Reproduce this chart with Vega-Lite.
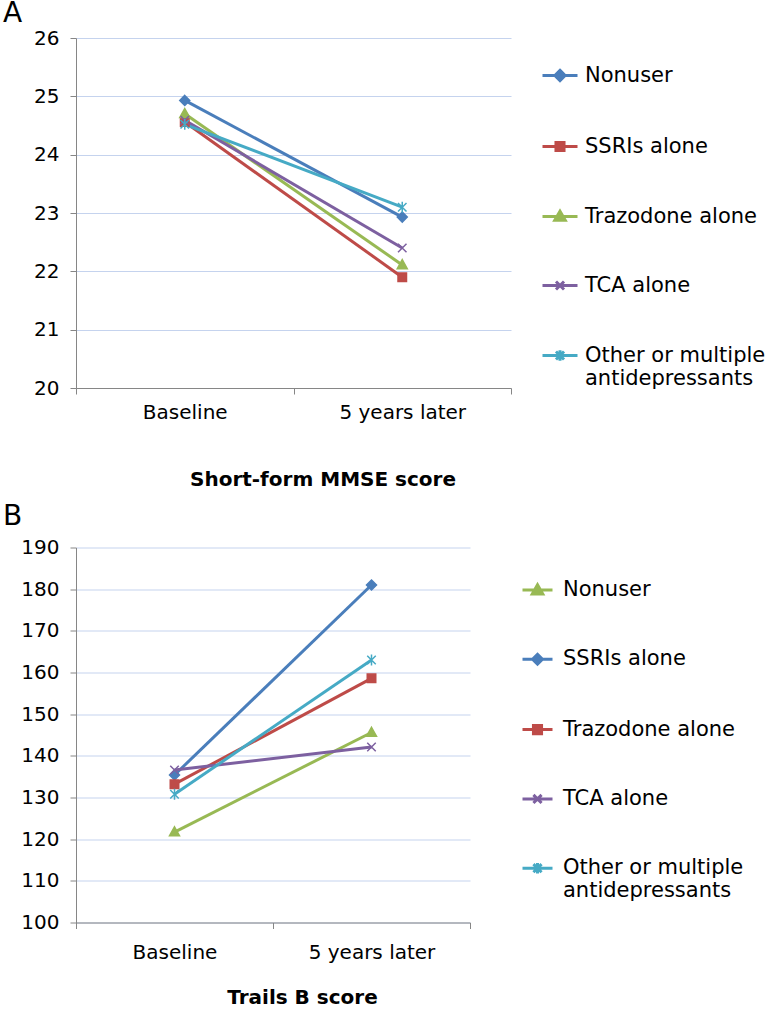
{
  "$schema": "https://vega.github.io/schema/vega-lite/v6.json",
  "padding": {"left": 3, "top": 0, "right": 0, "bottom": 0},
  "config": {
    "font": "DejaVu Sans",
    "view": {"stroke": null},
    "axis": {"labelFont": "DejaVu Sans", "titleFont": "DejaVu Sans", "labelColor": "#000000", "titleColor": "#000000", "domainColor": "#868686", "tickColor": "#868686", "gridColor": "#C5D3EE", "gridWidth": 1, "domainWidth": 1, "tickWidth": 1, "tickSize": 6, "labelFontSize": 20, "titleFontSize": 20, "titleFontWeight": "bold"},
    "legend": {"labelFont": "DejaVu Sans", "labelColor": "#000000"},
    "title": {"font": "DejaVu Sans", "color": "#000000"}
  },
  "datasets": {
    "mmse": [
      {"group": "Nonuser", "time": "Baseline", "score": 24.93},
      {"group": "Nonuser", "time": "5 years later", "score": 22.93},
      {"group": "SSRIs alone", "time": "Baseline", "score": 24.56},
      {"group": "SSRIs alone", "time": "5 years later", "score": 21.9},
      {"group": "Trazodone alone", "time": "Baseline", "score": 24.7},
      {"group": "Trazodone alone", "time": "5 years later", "score": 22.11},
      {"group": "TCA alone", "time": "Baseline", "score": 24.59},
      {"group": "TCA alone", "time": "5 years later", "score": 22.4},
      {"group": "Other or multiple antidepressants", "time": "Baseline", "score": 24.52},
      {"group": "Other or multiple antidepressants", "time": "5 years later", "score": 23.1}
    ],
    "trails": [
      {"group": "Nonuser", "time": "Baseline", "score": 121.7},
      {"group": "Nonuser", "time": "5 years later", "score": 145.6},
      {"group": "SSRIs alone", "time": "Baseline", "score": 135.4},
      {"group": "SSRIs alone", "time": "5 years later", "score": 181},
      {"group": "Trazodone alone", "time": "Baseline", "score": 133.2},
      {"group": "Trazodone alone", "time": "5 years later", "score": 158.6},
      {"group": "TCA alone", "time": "Baseline", "score": 136.6},
      {"group": "TCA alone", "time": "5 years later", "score": 142.1},
      {"group": "Other or multiple antidepressants", "time": "Baseline", "score": 130.8},
      {"group": "Other or multiple antidepressants", "time": "5 years later", "score": 163}
    ]
  },
  "spacing": 13.5,
  "resolve": {
    "scale": {"x": "independent", "y": "independent", "fill": "independent", "stroke": "independent", "shape": "independent"},
    "legend": {"fill": "independent", "stroke": "independent", "shape": "independent"}
  },
  "vconcat": [
    {
      "width": 435,
      "height": 350,
      "title": {"text": "A", "anchor": "start", "frame": "group", "fontSize": 28, "fontWeight": "normal", "dx": -73, "offset": 0},
      "data": {"name": "mmse"},
      "encoding": {
        "x": {"field": "time", "type": "nominal", "sort": ["Baseline", "5 years later"],
          "scale": {"type": "band", "paddingInner": 0, "paddingOuter": 0},
          "axis": {"title": "Short-form MMSE score", "labelAngle": 0, "tickBand": "extent", "grid": false, "labelPadding": 8, "titlePadding": 47, "titleX": 246.5}},
        "y": {"field": "score", "type": "quantitative",
          "scale": {"domain": [20, 26], "nice": false, "zero": false},
          "axis": {"title": null, "values": [20, 21, 22, 23, 24, 25, 26], "labelPadding": 11, "grid": true}}
      },
      "layer": [
        {
          "mark": {"type": "line", "strokeWidth": 3},
          "encoding": {
            "stroke": {"field": "group", "type": "nominal",
              "scale": {"domain": ["Nonuser", "SSRIs alone", "Trazodone alone", "TCA alone", "Other or multiple antidepressants"], "range": ["#4A7EBB", "#BE4B48", "#98B954", "#7D60A0", "#46AAC5"]}}
          }
        },
        {
          "mark": {"type": "point", "filled": true, "opacity": 0, "size": 1},
          "encoding": {
            "stroke": {"field": "group", "type": "nominal",
              "legend": {"title": null, "orient": "none", "legendX": 465, "legendY": 18.5, "padding": 0, "rowPadding": 40, "labelFontSize": 21, "labelOffset": 6, "labelLimit": 0, "symbolSize": 1225, "symbolStrokeWidth": 3, "symbolOpacity": 1,
                "labelExpr": "datum.label == 'Other or multiple antidepressants' ? ['Other or multiple', 'antidepressants'] : datum.label"}},
            "fill": {"field": "group", "type": "nominal",
              "scale": {"domain": ["Nonuser", "SSRIs alone", "Trazodone alone", "TCA alone", "Other or multiple antidepressants"], "range": ["#4A7EBB", "#BE4B48", "#98B954", "#7D60A0", "#46AAC5"]},
              "legend": {"title": null, "orient": "none", "legendX": 465, "legendY": 18.5, "padding": 0, "rowPadding": 40, "labelFontSize": 21, "labelOffset": 6, "labelLimit": 0, "symbolSize": 1225, "symbolStrokeWidth": 3, "symbolOpacity": 1,
                "labelExpr": "datum.label == 'Other or multiple antidepressants' ? ['Other or multiple', 'antidepressants'] : datum.label"}},
            "shape": {"field": "group", "type": "nominal",
              "scale": {"domain": ["Nonuser", "SSRIs alone", "Trazodone alone", "TCA alone", "Other or multiple antidepressants"],
                "range": ["M-1,0H1M0,-0.29L0.29,0L0,0.29L-0.29,0Z", "M-1,0H1M-0.23,-0.23H0.23V0.23H-0.23Z", "M-1,0H1M0,-0.3L0.3,0.22H-0.3Z", "M-1,0H1M-0.23,-0.23L0.23,0.23M-0.23,0.23L0.23,-0.23", "M-1,0H1M-0.23,-0.23L0.23,0.23M-0.23,0.23L0.23,-0.23M0,-0.3V0.3"]},
              "legend": {"title": null, "orient": "none", "legendX": 465, "legendY": 18.5, "padding": 0, "rowPadding": 40, "labelFontSize": 21, "labelOffset": 6, "labelLimit": 0, "symbolSize": 1225, "symbolStrokeWidth": 3, "symbolOpacity": 1,
                "labelExpr": "datum.label == 'Other or multiple antidepressants' ? ['Other or multiple', 'antidepressants'] : datum.label"}}
          }
        },
        {"transform": [{"filter": {"field": "group", "equal": "Nonuser"}}],
         "mark": {"type": "point", "shape": "M0,-2L2,0L0,2L-2,0Z", "size": 25, "filled": true, "opacity": 1, "fill": "#4A7EBB", "stroke": "#4A7EBB", "strokeWidth": 1.5}},
        {"transform": [{"filter": {"field": "group", "equal": "SSRIs alone"}}],
         "mark": {"type": "point", "shape": "M-1.7,-1.7H1.7V1.7H-1.7Z", "size": 25, "filled": true, "opacity": 1, "fill": "#BE4B48", "stroke": "#BE4B48", "strokeWidth": 1.5}},
        {"transform": [{"filter": {"field": "group", "equal": "Trazodone alone"}}],
         "mark": {"type": "point", "shape": "M0,-2.1L2,1.5H-2Z", "size": 25, "filled": true, "opacity": 1, "fill": "#98B954", "stroke": "#98B954", "strokeWidth": 1.5}},
        {"transform": [{"filter": {"field": "group", "equal": "TCA alone"}}],
         "mark": {"type": "point", "shape": "M-1.7,-1.7L1.7,1.7M-1.7,1.7L1.7,-1.7", "size": 25, "filled": true, "opacity": 1, "fill": "#7D60A0", "stroke": "#7D60A0", "strokeWidth": 1.5}},
        {"transform": [{"filter": {"field": "group", "equal": "Other or multiple antidepressants"}}],
         "mark": {"type": "point", "shape": "M-1.7,-1.7L1.7,1.7M-1.7,1.7L1.7,-1.7M0,-2.2V2.2", "size": 25, "filled": true, "opacity": 1, "fill": "#46AAC5", "stroke": "#46AAC5", "strokeWidth": 1.5}}
      ]
    },
    {
      "width": 394,
      "height": 375,
      "title": {"text": "B", "anchor": "start", "frame": "group", "fontSize": 28, "fontWeight": "normal", "dx": -73, "offset": 7},
      "data": {"name": "trails"},
      "encoding": {
        "x": {"field": "time", "type": "nominal", "sort": ["Baseline", "5 years later"],
          "scale": {"type": "band", "paddingInner": 0, "paddingOuter": 0},
          "axis": {"title": "Trails B score", "labelAngle": 0, "tickBand": "extent", "grid": false, "labelPadding": 14, "titlePadding": 25, "titleX": 226}},
        "y": {"field": "score", "type": "quantitative",
          "scale": {"domain": [100, 190], "nice": false, "zero": false},
          "axis": {"title": null, "values": [100, 110, 120, 130, 140, 150, 160, 170, 180, 190], "labelPadding": 11, "grid": true}}
      },
      "layer": [
        {
          "mark": {"type": "line", "strokeWidth": 3},
          "encoding": {
            "stroke": {"field": "group", "type": "nominal",
              "scale": {"domain": ["Nonuser", "SSRIs alone", "Trazodone alone", "TCA alone", "Other or multiple antidepressants"], "range": ["#98B954", "#4A7EBB", "#BE4B48", "#7D60A0", "#46AAC5"]}}
          }
        },
        {
          "mark": {"type": "point", "filled": true, "opacity": 0, "size": 1},
          "encoding": {
            "stroke": {"field": "group", "type": "nominal",
              "legend": {"title": null, "orient": "none", "legendX": 445, "legendY": 26, "padding": 0, "rowPadding": 42.3, "labelFontSize": 21, "labelOffset": 9, "labelLimit": 0, "symbolSize": 900, "symbolStrokeWidth": 3, "symbolOpacity": 1,
                "labelExpr": "datum.label == 'Other or multiple antidepressants' ? ['Other or multiple', 'antidepressants'] : datum.label"}},
            "fill": {"field": "group", "type": "nominal",
              "scale": {"domain": ["Nonuser", "SSRIs alone", "Trazodone alone", "TCA alone", "Other or multiple antidepressants"], "range": ["#98B954", "#4A7EBB", "#BE4B48", "#7D60A0", "#46AAC5"]},
              "legend": {"title": null, "orient": "none", "legendX": 445, "legendY": 26, "padding": 0, "rowPadding": 42.3, "labelFontSize": 21, "labelOffset": 9, "labelLimit": 0, "symbolSize": 900, "symbolStrokeWidth": 3, "symbolOpacity": 1,
                "labelExpr": "datum.label == 'Other or multiple antidepressants' ? ['Other or multiple', 'antidepressants'] : datum.label"}},
            "shape": {"field": "group", "type": "nominal",
              "scale": {"domain": ["Nonuser", "SSRIs alone", "Trazodone alone", "TCA alone", "Other or multiple antidepressants"],
                "range": ["M-1,0H1M0,-0.35L0.35,0.26H-0.35Z", "M-1,0H1M0,-0.33L0.33,0L0,0.33L-0.33,0Z", "M-1,0H1M-0.27,-0.27H0.27V0.27H-0.27Z", "M-1,0H1M-0.27,-0.27L0.27,0.27M-0.27,0.27L0.27,-0.27", "M-1,0H1M-0.27,-0.27L0.27,0.27M-0.27,0.27L0.27,-0.27M0,-0.35V0.35"]},
              "legend": {"title": null, "orient": "none", "legendX": 445, "legendY": 26, "padding": 0, "rowPadding": 42.3, "labelFontSize": 21, "labelOffset": 9, "labelLimit": 0, "symbolSize": 900, "symbolStrokeWidth": 3, "symbolOpacity": 1,
                "labelExpr": "datum.label == 'Other or multiple antidepressants' ? ['Other or multiple', 'antidepressants'] : datum.label"}}
          }
        },
        {"transform": [{"filter": {"field": "group", "equal": "Nonuser"}}],
         "mark": {"type": "point", "shape": "M0,-2.1L2,1.5H-2Z", "size": 25, "filled": true, "opacity": 1, "fill": "#98B954", "stroke": "#98B954", "strokeWidth": 1.5}},
        {"transform": [{"filter": {"field": "group", "equal": "SSRIs alone"}}],
         "mark": {"type": "point", "shape": "M0,-2L2,0L0,2L-2,0Z", "size": 25, "filled": true, "opacity": 1, "fill": "#4A7EBB", "stroke": "#4A7EBB", "strokeWidth": 1.5}},
        {"transform": [{"filter": {"field": "group", "equal": "Trazodone alone"}}],
         "mark": {"type": "point", "shape": "M-1.7,-1.7H1.7V1.7H-1.7Z", "size": 25, "filled": true, "opacity": 1, "fill": "#BE4B48", "stroke": "#BE4B48", "strokeWidth": 1.5}},
        {"transform": [{"filter": {"field": "group", "equal": "TCA alone"}}],
         "mark": {"type": "point", "shape": "M-1.7,-1.7L1.7,1.7M-1.7,1.7L1.7,-1.7", "size": 25, "filled": true, "opacity": 1, "fill": "#7D60A0", "stroke": "#7D60A0", "strokeWidth": 1.5}},
        {"transform": [{"filter": {"field": "group", "equal": "Other or multiple antidepressants"}}],
         "mark": {"type": "point", "shape": "M-1.7,-1.7L1.7,1.7M-1.7,1.7L1.7,-1.7M0,-2.2V2.2", "size": 25, "filled": true, "opacity": 1, "fill": "#46AAC5", "stroke": "#46AAC5", "strokeWidth": 1.5}}
      ]
    }
  ]
}
